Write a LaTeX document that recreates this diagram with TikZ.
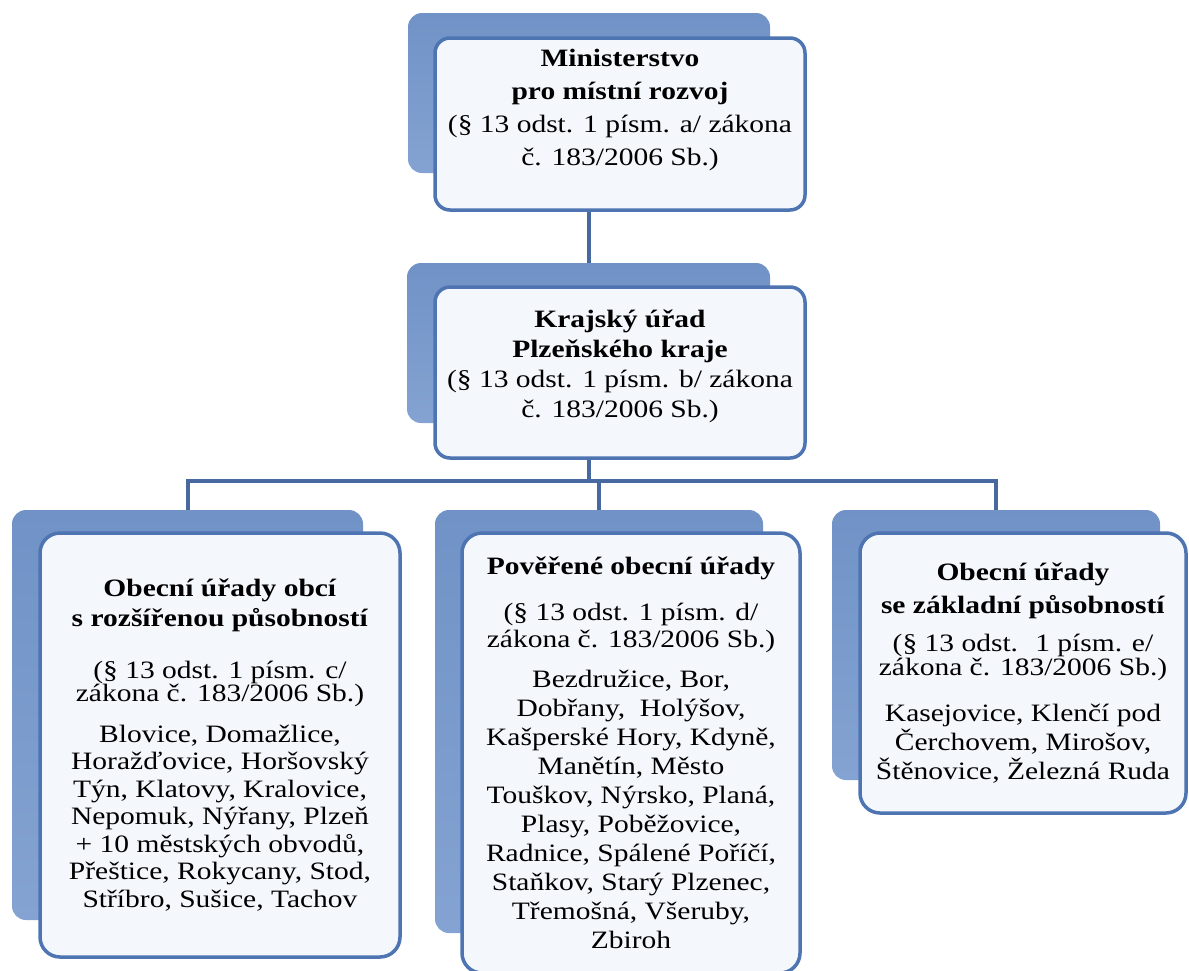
\documentclass[tikz,border=0pt]{standalone}
\usepackage{fontspec}
\setmainfont[FakeStretch=1.18]{Liberation Serif}

\definecolor{backblue}{RGB}{132,163,210}
\definecolor{backtop}{RGB}{112,146,198}
\definecolor{edgeblue}{RGB}{78,116,178}
\definecolor{paleblue}{RGB}{244,247,252}
\definecolor{linkblue}{RGB}{72,104,160}

\begin{document}
\begin{tikzpicture}[x=1pt, y=-1pt,
  card/.style={rectangle, rounded corners=#1, draw=edgeblue, line width=3.5pt,
    fill=paleblue, align=center, inner sep=0pt},
  card/.default=20pt,
  backcard/.style={rectangle, rounded corners=14pt, top color=backtop,
    bottom color=backblue, inner sep=0pt},
  link/.style={draw=linkblue, line width=4pt}]

\useasboundingbox (0,0) rectangle (1189,970);

% Blue cards behind the boxes
\node[backcard, minimum width=362pt, minimum height=160pt] (minB) at (589,93) {};
\node[backcard, minimum width=363pt, minimum height=160pt] (krajB) at (588.5,343) {};
\node[backcard, minimum width=351pt, minimum height=410pt] (orpB) at (187.5,715) {};
\node[backcard, minimum width=328pt, minimum height=423pt] (pouB) at (599,721.5) {};
\node[backcard, minimum width=328pt, minimum height=270pt] (zaklB) at (996,645) {};

% Ministry and region
\node[card=15pt, minimum width=370pt, minimum height=172pt,
  font=\fontsize{25}{33}\selectfont] (min) at (620,124)
  {\textbf{Ministerstvo}\\
   \textbf{pro místní rozvoj}\\
   (§ 13 odst. 1 písm. a/ zákona\\
   č. 183/2006 Sb.)\\
   \mbox{}};

\node[card=15pt, minimum width=370pt, minimum height=171pt,
  font=\fontsize{25}{30}\selectfont] (kraj) at (620,372.5)
  {\textbf{Krajský úřad}\\
   \textbf{Plzeňského kraje}\\
   (§ 13 odst. 1 písm. b/ zákona\\
   č. 183/2006 Sb.)\\[-12pt]
   \mbox{}};

% Municipal offices
\node[card, minimum width=360pt, minimum height=424pt,
  font=\fontsize{25}{27.5}\selectfont] (orp) at (220,745)
  {\textbf{Obecní úřady obcí}\\[2.5pt]
   \textbf{s rozšířenou působností}\\[24pt]
   (§ 13 odst. 1 písm. c/\\[-4pt]
   zákona č. 183/2006 Sb.)\\[13pt]
   Blovice, Domažlice,\\
   Horažďovice, Horšovský\\
   Týn, Klatovy, Kralovice,\\
   Nepomuk, Nýřany, Plzeň\\
   + 10 městských obvodů,\\
   Přeštice, Rokycany, Stod,\\
   Stříbro, Sušice, Tachov};

\node[card, minimum width=338pt, minimum height=440pt,
  font=\fontsize{25}{29}\selectfont] (pou) at (631,753)
  {\textbf{Pověřené obecní úřady}\\[17pt]
   (§ 13 odst. 1 písm. d/\\[-2pt]
   zákona č. 183/2006 Sb.)\\[11pt]
   Bezdružice, Bor,\\
   Dobřany, \ Holýšov,\\
   Kašperské Hory, Kdyně,\\
   Manětín, Město\\
   Touškov, Nýrsko, Planá,\\
   Plasy, Poběžovice,\\
   Radnice, Spálené Poříčí,\\
   Staňkov, Starý Plzenec,\\
   Třemošná, Všeruby,\\
   Zbiroh};

\node[card, minimum width=326pt, minimum height=280pt,
  font=\fontsize{25}{29}\selectfont] (zakl) at (1023,673)
  {\textbf{Obecní úřady}\\[4pt]
   \textbf{se základní působností}\\[9pt]
   (§ 13 odst. \ 1 písm. e/\\[-5pt]
   zákona č. 183/2006 Sb.)\\[17pt]
   Kasejovice, Klenčí pod\\
   Čerchovem, Mirošov,\\
   Štěnovice, Železná Ruda};

% Connectors
\coordinate (bar) at (0,481);
\draw[link] (krajB.north |- min.south) -- (krajB.north);
\draw[link] (krajB.south |- kraj.south) -- (krajB.south |- bar);
\draw[link] (orpB.north) -- (orpB.north |- bar) -- (zaklB.north |- bar) -- (zaklB.north);
\draw[link] (pouB.north |- bar) -- (pouB.north);
\end{tikzpicture}
\end{document}
